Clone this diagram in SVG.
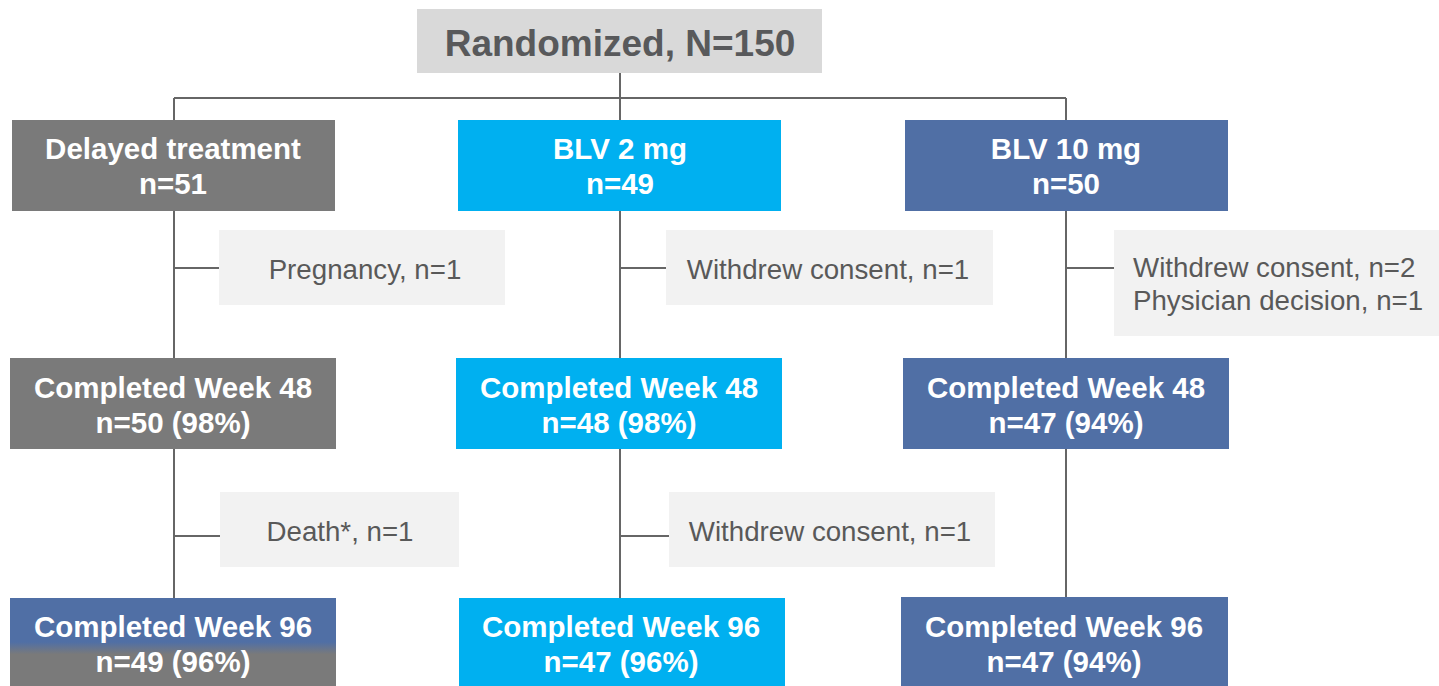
<svg xmlns="http://www.w3.org/2000/svg" width="1439" height="686" viewBox="0 0 1439 686">
<style>
.b{font-family:"Liberation Sans",Arial,sans-serif;font-weight:bold;font-size:29.5px;fill:#fff;text-anchor:middle}
.r{font-family:"Liberation Sans",Arial,sans-serif;font-size:27.7px;fill:#595959}
.c{text-anchor:middle}
.ln{stroke:#666;stroke-width:2;fill:none}
.side{fill:#f2f2f2}
.g{fill:#7a7a7a}.cy{fill:#00b0f0}.bl{fill:#506fa5}
</style>
<defs>
<linearGradient id="mix" x1="0" y1="0" x2="0" y2="1">
<stop offset="0" stop-color="#506fa5"/>
<stop offset="0.5" stop-color="#506fa5"/>
<stop offset="0.64" stop-color="#7a7a7a"/>
<stop offset="1" stop-color="#7a7a7a"/>
</linearGradient>
</defs>
<rect width="1439" height="686" fill="#fff"/>
<g id="connectors">
<path class="ln" d="M620 73V98M174 98H1066M174 98V598M620 98V598M1066 98V598"/>
<path class="ln" d="M174 268H219M620 268H666M1066 268H1114M174 536H220M620 536H669"/>
</g>
<g id="randomized">
<rect x="417" y="9" width="405" height="64" fill="#d9d9d9"/>
<text x="620" y="56" class="b" style="font-size:37px;fill:#58595b">Randomized, N=150</text>
</g>
<g id="delayed">
<rect x="12" y="120" width="323" height="91" class="g"/>
<text x="173" y="159" class="b">Delayed treatment</text>
<text x="173" y="194" class="b">n=51</text>
</g>
<g id="blv2">
<rect x="458" y="120" width="323" height="91" class="cy"/>
<text x="620" y="159" class="b">BLV 2 mg</text>
<text x="620" y="194" class="b">n=49</text>
</g>
<g id="blv10">
<rect x="905" y="120" width="323" height="91" class="bl"/>
<text x="1066" y="159" class="b">BLV 10 mg</text>
<text x="1066" y="194" class="b">n=50</text>
</g>
<g id="pregnancy">
<rect x="219" y="230" width="286" height="75" class="side"/>
<text x="365" y="279" class="r c">Pregnancy, n=1</text>
</g>
<g id="withdrew1">
<rect x="666" y="230" width="327" height="75" class="side"/>
<text x="828" y="279" class="r c">Withdrew consent, n=1</text>
</g>
<g id="withdrew2">
<rect x="1114" y="230" width="325" height="106" class="side"/>
<text x="1133" y="277" class="r">Withdrew consent, n=2</text>
<text x="1133" y="310" class="r">Physician decision, n=1</text>
</g>
<g id="dt48">
<rect x="10" y="358" width="326" height="91" class="g"/>
<text x="173" y="398" class="b">Completed Week 48</text>
<text x="173" y="433" class="b">n=50 (98%)</text>
</g>
<g id="blv2_48">
<rect x="456" y="358" width="326" height="91" class="cy"/>
<text x="619" y="398" class="b">Completed Week 48</text>
<text x="619" y="433" class="b">n=48 (98%)</text>
</g>
<g id="blv10_48">
<rect x="903" y="358" width="326" height="91" class="bl"/>
<text x="1066" y="398" class="b">Completed Week 48</text>
<text x="1066" y="433" class="b">n=47 (94%)</text>
</g>
<g id="death">
<rect x="220" y="492" width="239" height="75" class="side"/>
<text x="340" y="541" class="r c">Death*, n=1</text>
</g>
<g id="withdrew3">
<rect x="669" y="492" width="326" height="75" class="side"/>
<text x="830" y="541" class="r c">Withdrew consent, n=1</text>
</g>
<g id="dt96">
<rect x="10" y="598" width="326" height="88" fill="url(#mix)"/>
<text x="173" y="637" class="b">Completed Week 96</text>
<text x="173" y="672" class="b">n=49 (96%)</text>
</g>
<g id="blv2_96">
<rect x="459" y="598" width="326" height="88" class="cy"/>
<text x="621" y="637" class="b">Completed Week 96</text>
<text x="621" y="672" class="b">n=47 (96%)</text>
</g>
<g id="blv10_96">
<rect x="901" y="597" width="327" height="89" class="bl"/>
<text x="1064" y="637" class="b">Completed Week 96</text>
<text x="1064" y="672" class="b">n=47 (94%)</text>
</g>
</svg>
